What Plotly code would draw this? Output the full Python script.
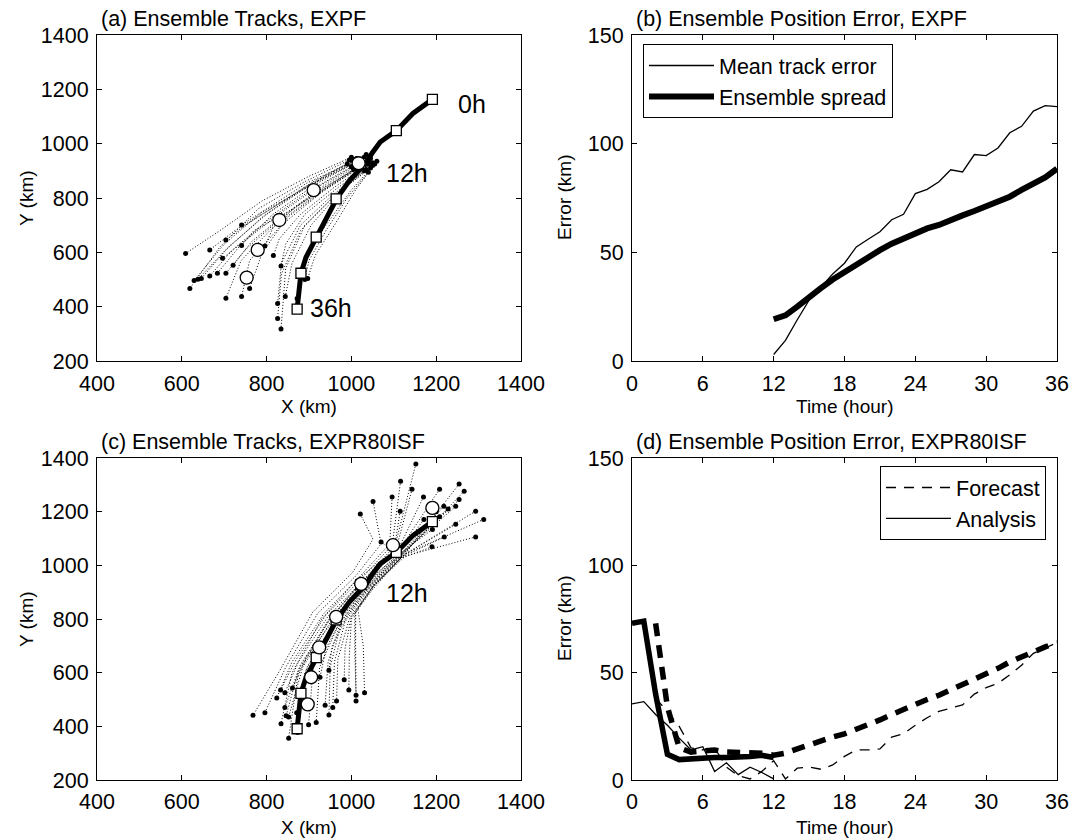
import plotly.graph_objects as go

FONT = "Liberation Sans, Arial, Helvetica, sans-serif"
FS = 21.5

# ---------------- Panels (a) and (c): tracks (km) ----------------
track_x = [1191, 1145, 1106, 1068, 1049, 1035, 1020, 995, 966, 942, 917, 893, 881, 877, 872]
track_y = [1163, 1111, 1048, 1006, 966, 930, 905, 863, 800, 730, 658, 582, 523, 455, 392]
truth6_x = [1191, 1106, 1022, 964, 917, 881, 872]
truth6_y = [1163, 1048, 928, 797, 656, 523, 391]

mean_a_x = [1017, 911, 830, 779, 753]
mean_a_y = [928, 829, 719, 609, 507]
mean_c_x = [1191, 1098, 1023, 964, 924, 905, 897]
mean_c_y = [1214, 1075, 931, 808, 694, 583, 482]

# ensemble members of EXPF (12h -> 36h), waypoints (x, y) in km
members_a = [
    [(1000, 950), (900, 880), (790, 790), (690, 680), (609, 596)],
    [(995, 940), (890, 860), (780, 760), (690, 620), (619, 467)],
    [(1005, 935), (895, 855), (790, 750), (700, 630), (629, 496)],
    [(1010, 930), (900, 845), (800, 740), (710, 620), (638, 501)],
    [(990, 925), (890, 840), (790, 730), (705, 610), (646, 504)],
    [(1012, 945), (910, 860), (810, 760), (725, 680), (666, 609)],
    [(1000, 915), (905, 830), (805, 720), (720, 610), (666, 513)],
    [(1020, 940), (915, 850), (815, 740), (735, 620), (684, 523)],
    [(1015, 925), (915, 835), (820, 730), (745, 640), (696, 578)],
    [(1030, 950), (930, 870), (830, 780), (750, 700), (704, 645)],
    [(1020, 915), (920, 825), (830, 720), (750, 610), (704, 523)],
    [(1005, 905), (915, 810), (820, 700), (740, 570), (704, 431)],
    [(1025, 930), (925, 835), (835, 730), (765, 640), (721, 552)],
    [(1035, 960), (940, 880), (850, 800), (780, 740), (741, 701)],
    [(1030, 920), (935, 830), (840, 740), (770, 680), (741, 625)],
    [(1015, 910), (925, 815), (835, 700), (760, 570), (741, 437)],
    [(1040, 935), (945, 840), (850, 730), (790, 600), (760, 467)],
    [(1045, 945), (960, 860), (870, 770), (815, 690), (796, 623)],
    [(1040, 925), (960, 840), (880, 740), (830, 650), (816, 588)],
    [(1035, 905), (955, 810), (880, 700), (835, 560), (826, 412)],
    [(1050, 930), (970, 840), (890, 740), (845, 630), (834, 550)],
    [(1030, 900), (955, 800), (880, 680), (835, 520), (826, 356)],
    [(1045, 910), (965, 815), (890, 700), (845, 540), (834, 318)],
    [(1050, 920), (975, 825), (905, 700), (860, 560), (844, 437)],
    [(1055, 925), (1000, 830), (940, 700), (890, 580), (872, 430)],
    [(1060, 935), (1010, 830), (960, 700), (915, 590), (897, 504)],
    [(1040, 895), (990, 800), (940, 680), (900, 570), (890, 500)],
]

# ensemble members of EXPR80ISF (0h -> 36h), waypoints (x, y) in km
members_c = [
    [(1021, 1191), (1051, 1097), (1003, 974), (909, 826), (830, 605), (768, 441)],
    [(1051, 1238), (1070, 1080), (1010, 960), (920, 820), (845, 620), (796, 451)],
    [(1070, 1087), (1085, 1070), (1015, 950), (935, 820), (860, 640), (824, 506)],
    [(1096, 1255), (1090, 1065), (1020, 945), (940, 815), (870, 650), (833, 535)],
    [(1116, 1313), (1095, 1060), (1025, 940), (945, 810), (875, 640), (843, 525)],
    [(1152, 1378), (1100, 1055), (1012, 945), (930, 800), (860, 600), (834, 410)],
    [(1143, 1284), (1105, 1058), (1028, 940), (950, 800), (880, 630), (843, 470)],
    [(1115, 1202), (1100, 1050), (1022, 935), (945, 795), (875, 610), (846, 439)],
    [(1170, 1255), (1108, 1052), (1030, 935), (955, 800), (885, 620), (852, 435)],
    [(1208, 1284), (1110, 1050), (1018, 930), (945, 790), (875, 600), (852, 356)],
    [(1171, 1171), (1112, 1045), (1035, 930), (960, 800), (895, 660), (861, 543)],
    [(1208, 1181), (1115, 1040), (1032, 925), (960, 790), (895, 620), (871, 451)],
    [(1191, 1134), (1113, 1042), (1025, 925), (955, 780), (890, 600), (873, 377)],
    [(1218, 1220), (1118, 1045), (1038, 925), (965, 785), (910, 620), (899, 406)],
    [(1228, 1210), (1120, 1040), (1040, 920), (970, 780), (925, 620), (917, 414)],
    [(1246, 1220), (1122, 1048), (1045, 935), (980, 810), (940, 690), (926, 583)],
    [(1254, 1245), (1125, 1050), (1042, 925), (975, 790), (945, 640), (938, 479)],
    [(1246, 1153), (1120, 1035), (1040, 915), (975, 780), (950, 620), (947, 442)],
    [(1266, 1276), (1128, 1052), (1048, 930), (990, 810), (955, 700), (947, 609)],
    [(1293, 1202), (1125, 1040), (1045, 918), (985, 790), (960, 640), (956, 470)],
    [(1312, 1171), (1130, 1045), (1050, 920), (995, 800), (968, 650), (965, 494)],
    [(1293, 1106), (1128, 1035), (1052, 925), (1000, 810), (985, 690), (983, 574)],
    [(1219, 1106), (1118, 1030), (1048, 915), (1000, 800), (995, 660), (994, 535)],
    [(1190, 1069), (1115, 1025), (1050, 910), (1008, 820), (1008, 680), (1011, 516)],
    [(1254, 1303), (1130, 1050), (1055, 925), (1010, 830), (1010, 700), (1011, 494)],
    [(1200, 1200), (1128, 1045), (1055, 930), (1015, 840), (1028, 700), (1031, 525)],
]

# ---------------- Panel (b): EXPF errors (km) ----------------
hours_b = list(range(12, 37))
mean_err_b = [3, 9.5, 19, 28, 34, 40, 45, 52.5, 56, 59.5, 65, 67.5, 77, 79, 82.5,
              88, 87, 95, 94.5, 98, 105, 108, 115, 117.5, 117]
spread_b = [19.2, 21, 25, 29.5, 33.5, 37.5, 41, 44.5, 47.5, 51, 54, 56.5, 58.7, 61,
            62.6, 65, 67, 69, 71, 73.3, 75.6, 78.7, 81.4, 84.5, 88.5]

# ---------------- Panel (d): EXPR80ISF errors (km) ----------------
hours_an = list(range(0, 13))
an_err = [35.5, 36.5, 30.5, 25.5, 19.5, 14, 15.5, 4, 8, 2.5, 6, 3.5, 0.5]
an_spread = [73, 74, 40, 12, 9.5, 10, 10.5, 10.5, 10.5, 10.5, 11, 11.5, 10.5]
hours_fc = list(range(2, 37))
fc_err = [38, 32, 25, 15, 14, 15, 6, 2, 0.5, 4, 9, 0.5, 5.5, 6, 5, 7, 11, 14, 14, 14.5,
          20, 21.5, 25.5, 29, 32, 33.5, 35, 40, 43, 45, 49, 53.5, 59, 61.5, 64]
fc_spread = [73, 34, 15, 13, 13.5, 14, 13, 13, 13, 12.5, 11.5, 12.5, 14.5, 16.5, 18.5,
             20, 21.5, 23.5, 25.5, 28, 30.5, 33, 35.5, 37.5, 39.5, 42, 44, 47, 49.5,
             52, 55, 57.5, 60, 62, 64]

fig = go.Figure()


def add_track_panel(members, mean_x, mean_y, xa, ya):
    mx, my, dx, dy = [], [], [], []
    for m in members:
        mx += [p[0] for p in m] + [None]
        my += [p[1] for p in m] + [None]
        dx += [m[0][0], m[-1][0]]
        dy += [m[0][1], m[-1][1]]
    fig.add_trace(go.Scatter(x=mx, y=my, mode="lines", xaxis=xa, yaxis=ya,
                             line=dict(color="black", width=1, dash="1px,2px"),
                             showlegend=False, hoverinfo="skip"))
    fig.add_trace(go.Scatter(x=dx, y=dy, mode="markers", xaxis=xa, yaxis=ya,
                             marker=dict(color="black", size=5),
                             showlegend=False))
    fig.add_trace(go.Scatter(x=track_x, y=track_y, mode="lines", xaxis=xa, yaxis=ya,
                             line=dict(color="black", width=5), showlegend=False))
    fig.add_trace(go.Scatter(x=truth6_x, y=truth6_y, mode="markers", xaxis=xa, yaxis=ya,
                             marker=dict(symbol="square", size=10, color="white",
                                         line=dict(color="black", width=1.3)),
                             showlegend=False))
    fig.add_trace(go.Scatter(x=mean_x, y=mean_y, mode="markers", xaxis=xa, yaxis=ya,
                             marker=dict(symbol="circle", size=13, color="white",
                                         line=dict(color="black", width=1.3)),
                             showlegend=False))


add_track_panel(members_a, mean_a_x, mean_a_y, "x", "y")
add_track_panel(members_c, mean_c_x, mean_c_y, "x3", "y3")

# panel (b)
fig.add_trace(go.Scatter(x=hours_b, y=mean_err_b, mode="lines", xaxis="x2", yaxis="y2",
                         name="Mean track error", legend="legend",
                         line=dict(color="black", width=1.3)))
fig.add_trace(go.Scatter(x=hours_b, y=spread_b, mode="lines", xaxis="x2", yaxis="y2",
                         name="Ensemble spread", legend="legend",
                         line=dict(color="black", width=6)))

# panel (d)
fig.add_trace(go.Scatter(x=hours_fc, y=fc_err, mode="lines", xaxis="x4", yaxis="y4",
                         name="Forecast", legend="legend2",
                         line=dict(color="black", width=1.3, dash="10px,8px")))
fig.add_trace(go.Scatter(x=hours_an, y=an_err, mode="lines", xaxis="x4", yaxis="y4",
                         name="Analysis", legend="legend2",
                         line=dict(color="black", width=1.3)))
fig.add_trace(go.Scatter(x=hours_fc, y=fc_spread, mode="lines", xaxis="x4", yaxis="y4",
                         showlegend=False,
                         line=dict(color="black", width=5.5, dash="13px,9px")))
fig.add_trace(go.Scatter(x=hours_an, y=an_spread, mode="lines", xaxis="x4", yaxis="y4",
                         showlegend=False,
                         line=dict(color="black", width=5.5)))

W, H = 1071, 839
left_dom = [97 / W, 521 / W]
right_dom = [632 / W, 1057 / W]
top_dom = [1 - 361 / H, 1 - 35 / H]
bot_dom = [1 - 780 / H, 1 - 458 / H]

axis_common = dict(showgrid=False, zeroline=False, showline=True, linecolor="black",
                   linewidth=1, mirror="allticks", ticks="inside", ticklen=5,
                   tickwidth=1, tickcolor="black", automargin=False,
                   tickfont=dict(family=FONT, size=FS, color="black"))

fig.update_layout(
    width=W, height=H, margin=dict(l=0, r=0, t=0, b=0),
    paper_bgcolor="white", plot_bgcolor="white",
    font=dict(family=FONT, size=FS, color="black"),
    xaxis=dict(domain=left_dom, anchor="y", range=[400, 1400],
               tickvals=[400, 600, 800, 1000, 1200, 1400], ticklabelstandoff=3, **axis_common),
    yaxis=dict(domain=top_dom, anchor="x", range=[200, 1400],
               tickvals=[200, 400, 600, 800, 1000, 1200, 1400], ticklabelstandoff=3, **axis_common),
    xaxis2=dict(domain=right_dom, anchor="y2", range=[0, 36],
                tickvals=[0, 6, 12, 18, 24, 30, 36], ticklabelstandoff=3, **axis_common),
    yaxis2=dict(domain=top_dom, anchor="x2", range=[0, 150],
                tickvals=[0, 50, 100, 150], ticklabelstandoff=3, **axis_common),
    xaxis3=dict(domain=left_dom, anchor="y3", range=[400, 1400],
                tickvals=[400, 600, 800, 1000, 1200, 1400], ticklabelstandoff=2, **axis_common),
    yaxis3=dict(domain=bot_dom, anchor="x3", range=[200, 1400],
                tickvals=[200, 400, 600, 800, 1000, 1200, 1400], ticklabelstandoff=3, **axis_common),
    xaxis4=dict(domain=right_dom, anchor="y4", range=[0, 36],
                tickvals=[0, 6, 12, 18, 24, 30, 36], ticklabelstandoff=2, **axis_common),
    yaxis4=dict(domain=bot_dom, anchor="x4", range=[0, 150],
                tickvals=[0, 50, 100, 150], ticklabelstandoff=3, **axis_common),
    legend=dict(x=643 / W, y=1 - 44 / H, xanchor="left", yanchor="top",
                bgcolor="white", bordercolor="black", borderwidth=1, itemwidth=65,
                font=dict(family=FONT, size=FS), tracegroupgap=0),
    legend2=dict(x=1046 / W, y=1 - 466 / H, xanchor="right", yanchor="top",
                 bgcolor="white", bordercolor="black", borderwidth=1, itemwidth=65,
                 font=dict(family=FONT, size=FS), tracegroupgap=0),
)

ann = []
# panel titles
for txt, x, y in [("(a) Ensemble Tracks, EXPF", 99 / W, 1 - 19 / H),
                  ("(b) Ensemble Position Error, EXPF", 634 / W, 1 - 19 / H),
                  ("(c) Ensemble Tracks, EXPR80ISF", 99 / W, 1 - 442 / H),
                  ("(d) Ensemble Position Error, EXPR80ISF", 634 / W, 1 - 442 / H)]:
    ann.append(dict(text=txt, x=x, y=y, xref="paper", yref="paper", xanchor="left",
                    yanchor="middle", showarrow=False, font=dict(family=FONT, size=FS)))
# axis titles
for txt, x, y, ang in [("X (km)", 309 / W, 1 - 407 / H, 0),
                       ("Time (hour)", 844.5 / W, 1 - 407 / H, 0),
                       ("X (km)", 309 / W, 1 - 827 / H, 0),
                       ("Time (hour)", 844.5 / W, 1 - 827 / H, 0),
                       ("Y (km)", 26 / W, 1 - 198 / H, -90),
                       ("Error (km)", 564 / W, 1 - 198 / H, -90),
                       ("Y (km)", 26 / W, 1 - 619 / H, -90),
                       ("Error (km)", 564 / W, 1 - 619 / H, -90)]:
    ann.append(dict(text=txt, x=x, y=y, xref="paper", yref="paper", xanchor="center",
                    yanchor="middle", textangle=ang, showarrow=False,
                    font=dict(family=FONT, size=19)))
# time labels on track panels
for txt, x, y, xr, yr in [("0h", 1284, 1146, "x", "y"), ("12h", 1131, 893, "x", "y"),
                          ("36h", 951, 396, "x", "y"), ("12h", 1131, 898, "x3", "y3")]:
    ann.append(dict(text=txt, x=x, y=y, xref=xr, yref=yr, xanchor="center",
                    yanchor="middle", showarrow=False, font=dict(family=FONT, size=25)))
fig.update_layout(annotations=ann)

fig.write_html("out.html", config={"displayModeBar": False},
               post_script="document.body.style.margin='0';document.body.style.overflow='hidden';")
